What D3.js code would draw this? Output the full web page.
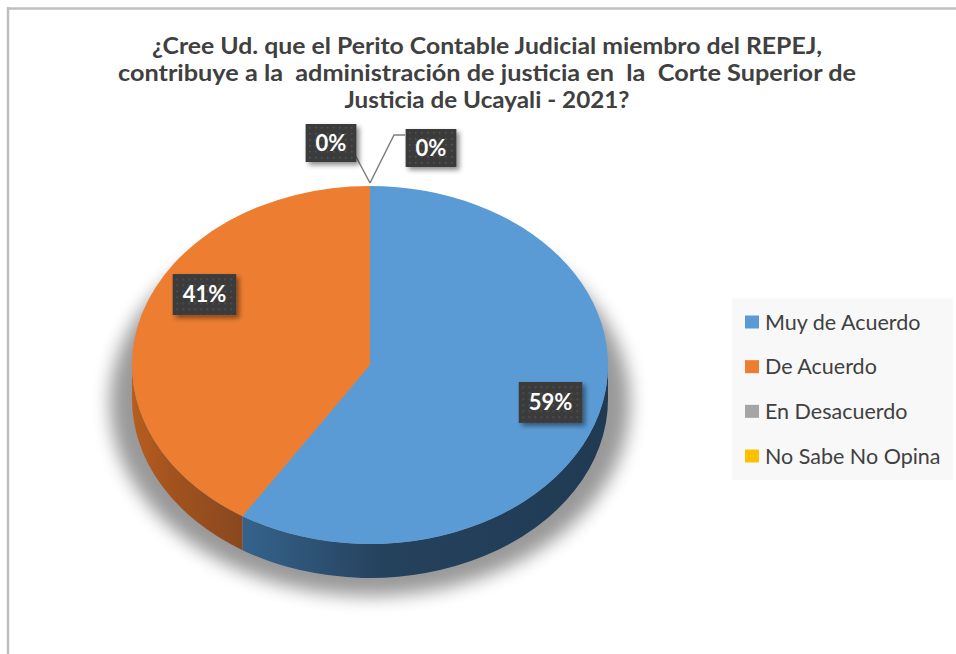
<!DOCTYPE html>
<html>
<head>
<meta charset="utf-8">
<script src="https://cdn.jsdelivr.net/npm/d3@7"></script>
<style>
body { margin: 0; background: #fff; }
</style>
</head>
<body>
<div id="chart"></div>
<script>
// chart data
var categories = ["Muy de Acuerdo", "De Acuerdo", "En Desacuerdo", "No Sabe No Opina"];
var values = [59, 41, 0, 0];
var colors = ["#5b9bd5", "#ed7d31", "#a5a5a5", "#ffc000"];
var titleLines = [
  "¿Cree Ud. que el Perito Contable Judicial miembro del REPEJ,",
  "contribuye a la  administración de justicia en  la  Corte Superior de",
  "Justicia de Ucayali - 2021?"
];

var W = 956, H = 654;
var cx = 370, cy = 365, rx = 238, ry = 179, depth = 34;

var svg = d3.select("#chart").append("svg")
  .attr("width", W)
  .attr("height", H);

var defs = svg.append("defs");

// soft shadow under the pie
defs.append("filter").attr("id", "pieShadow")
  .attr("x", "-20%").attr("y", "-20%").attr("width", "140%").attr("height", "140%")
  .append("feGaussianBlur").attr("stdDeviation", 9);

// shadow for the label boxes
var lf = defs.append("filter").attr("id", "boxShadow")
  .attr("x", "-30%").attr("y", "-30%").attr("width", "160%").attr("height", "160%");
lf.append("feDropShadow").attr("dx", 3).attr("dy", 3).attr("stdDeviation", 2.5)
  .attr("flood-color", "#000").attr("flood-opacity", 0.45);

// dotted texture of the label boxes
var pat = defs.append("pattern").attr("id", "dots")
  .attr("width", 6).attr("height", 6).attr("patternUnits", "userSpaceOnUse");
pat.append("rect").attr("width", 6).attr("height", 6).attr("fill", "#3b3b3b");
pat.append("rect").attr("x", 2).attr("y", 2).attr("width", 1.5).attr("height", 1.5).attr("fill", "#575757");

// shading of the side walls
var sideShades = [
  ["#36658f", "#25425d", "#203a53"],
  ["#b65d1f", "#a0521e", "#8a4820"]
];
sideShades.forEach(function (s, i) {
  var g = defs.append("linearGradient").attr("id", "side" + i)
    .attr("gradientUnits", "userSpaceOnUse")
    .attr("x1", i === 0 ? 233 : 133).attr("x2", i === 0 ? 608 : 240)
    .attr("y1", 0).attr("y2", 0);
  g.append("stop").attr("offset", "0%").attr("stop-color", s[0]);
  g.append("stop").attr("offset", "40%").attr("stop-color", s[1]);
  g.append("stop").attr("offset", "100%").attr("stop-color", s[2]);
});

// outer border of the chart area
svg.append("rect").attr("width", W).attr("height", H).attr("fill", "#fff");
svg.append("line").attr("x1", 7).attr("x2", W).attr("y1", 8.5).attr("y2", 8.5)
  .attr("stroke", "#bfbfbf").attr("stroke-width", 2.5);
svg.append("line").attr("x1", 8).attr("x2", 8).attr("y1", 7).attr("y2", H)
  .attr("stroke", "#bfbfbf").attr("stroke-width", 2.5);

// title
var title = svg.append("text")
  .attr("x", 487)
  .attr("text-anchor", "middle")
  .attr("xml:space", "preserve")
  .style("white-space", "pre")
  .style("font-family", "Lato, 'Open Sans', sans-serif")
  .style("font-weight", "bold")
  .style("font-size", "23px")
  .attr("fill", "#404040");
var titleWidths = [670, 738, 285];
titleLines.forEach(function (t, i) {
  title.append("tspan")
    .attr("x", 487)
    .attr("y", 54 + i * 27)
    .attr("textLength", titleWidths[i])
    .attr("lengthAdjust", "spacingAndGlyphs")
    .text(t);
});

// pie layout
var pie = d3.pie().sort(null).value(function (d) { return d; });
var arcs = pie(values);

function pt(a, r, dy) {
  return [cx + rx * r * Math.sin(a), cy - ry * r * Math.cos(a) + (dy || 0)];
}

function topPath(a0, a1) {
  var p0 = pt(a0, 1), p1 = pt(a1, 1);
  var large = (a1 - a0) > Math.PI ? 1 : 0;
  return "M" + cx + "," + cy + "L" + p0 + "A" + rx + "," + ry + " 0 " + large + " 1 " + p1 + "Z";
}

function sidePath(a0, a1) {
  // only the front half (angles between pi/2 and 3pi/2) is visible
  var s = Math.max(a0, Math.PI / 2), e = Math.min(a1, 3 * Math.PI / 2);
  if (e <= s) return null;
  var p0 = pt(s, 1), p1 = pt(e, 1), q1 = pt(e, 1, depth), q0 = pt(s, 1, depth);
  return "M" + p0 + "A" + rx + "," + ry + " 0 0 1 " + p1 +
    "L" + q1 + "A" + rx + "," + ry + " 0 0 0 " + q0 + "Z";
}

var pieG = svg.append("g");

// shadow
pieG.append("ellipse")
  .attr("cx", cx).attr("cy", cy + 38)
  .attr("rx", rx + 22).attr("ry", ry + 14)
  .attr("fill", "#000").attr("opacity", 0.4)
  .attr("filter", "url(#pieShadow)");

// side walls
pieG.selectAll(".side")
  .data(arcs.filter(function (d) { return sidePath(d.startAngle, d.endAngle); }))
  .enter().append("path")
  .attr("class", "side")
  .attr("d", function (d) { return sidePath(d.startAngle, d.endAngle); })
  .attr("fill", function (d) { return "url(#side" + d.index + ")"; });

// top faces
pieG.selectAll(".top")
  .data(arcs.filter(function (d) { return d.endAngle > d.startAngle; }))
  .enter().append("path")
  .attr("class", "top")
  .attr("d", function (d) { return topPath(d.startAngle, d.endAngle); })
  .attr("fill", function (d) { return colors[d.index]; });

// data labels
var fmt = d3.format(".0%");
var total = d3.sum(values);
var nudges = [[0, -2], [15, -31], [-39, -43], [61, -38]];

arcs.forEach(function (d, i) {
  var mid = (d.startAngle + d.endAngle) / 2;
  var c = pt(mid, d.value > 0 ? 0.79 : 1);
  var lx = c[0] + nudges[i][0], ly = c[1] + nudges[i][1];
  var txt = fmt(d.value / total);

  if (d.value === 0) {
    var top = pt(mid, 1);
    var lead = i === 2
      ? [[top[0], top[1] - 3], [lx + 22, ly + 8]]
      : [[top[0], top[1] - 3], [lx - 37, ly - 13], [lx - 26, ly - 13]];
    svg.append("path")
      .attr("d", d3.line()(lead))
      .attr("fill", "none")
      .attr("stroke", "#7f7f7f")
      .attr("stroke-width", 1.5);
  }

  var g = svg.append("g").attr("transform", "translate(" + lx + "," + ly + ")");
  var t = g.append("text")
    .attr("text-anchor", "middle")
    .attr("dy", "0.36em")
    .style("font-family", "Lato, 'Open Sans', sans-serif")
    .style("font-weight", "bold")
    .style("font-size", "22px")
    .attr("fill", "#fff")
    .text(txt);
  var bw = t.node().getComputedTextLength() + 20;
  var bh = d.value > 0 ? 41 : 38;
  g.insert("rect", "text")
    .attr("x", -bw / 2).attr("y", -bh / 2)
    .attr("width", bw).attr("height", bh)
    .attr("fill", "url(#dots)")
    .attr("filter", "url(#boxShadow)");
});

// legend
var legend = svg.append("g");
legend.append("rect")
  .attr("x", 732).attr("y", 298)
  .attr("width", 221).attr("height", 182)
  .attr("fill", "#f8f8f8");

var ly = d3.scalePoint().domain(categories).range([322, 456]);

var items = legend.selectAll(".item")
  .data(categories)
  .enter().append("g")
  .attr("class", "item")
  .attr("transform", function (d) { return "translate(745," + ly(d) + ")"; });

items.append("rect")
  .attr("x", 0).attr("y", -6.5)
  .attr("width", 14).attr("height", 13)
  .attr("fill", function (d, i) { return colors[i]; });

items.append("text")
  .attr("x", 20)
  .attr("dy", "0.36em")
  .style("font-family", "Lato, 'Open Sans', sans-serif")
  .style("font-size", "21.5px")
  .attr("fill", "#404040")
  .text(function (d) { return d; });
</script>
</body>
</html>
